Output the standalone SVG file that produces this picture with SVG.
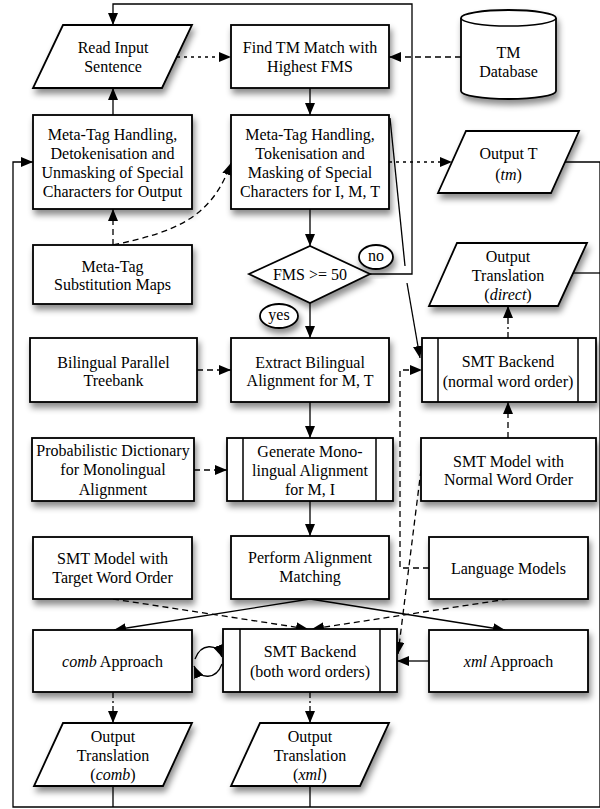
<svg xmlns="http://www.w3.org/2000/svg" width="600" height="809" viewBox="0 0 600 809">
<defs>
<filter id="sh" x="-20%" y="-20%" width="150%" height="160%">
<feDropShadow dx="2" dy="5" stdDeviation="3" flood-color="#000" flood-opacity="0.45"/>
</filter>
<marker id="ah" viewBox="0 0 12 10" refX="12" refY="5" markerWidth="12" markerHeight="10" markerUnits="userSpaceOnUse" orient="auto">
<path d="M0,0 L12,5 L0,10 z" fill="#000"/>
</marker>
<style>
.b{fill:#fff;stroke:#000;stroke-width:1.8;filter:url(#sh)}
.i{fill:none;stroke:#000;stroke-width:1.5}
.t{font-family:"Liberation Serif","Times New Roman",serif;font-size:16px;text-anchor:middle;fill:#000}
.c{fill:none;stroke:#000;stroke-width:1.3}
.a{marker-end:url(#ah)}
.dash{stroke-dasharray:6 4}
.dot{stroke-dasharray:3 4}
.dd{stroke-dasharray:6 3 2 3}
</style>
</defs>

<g id="connectors">
<path class="c dot a" d="M177,57 H231"/>
<path class="c dash a" d="M461,57 H389"/>
<path class="c a" d="M310,88 V115"/>
<path class="c a" d="M113,115 V88"/>
<path class="c dash a" d="M113,245 V209"/>
<path class="c dash a" d="M113,245 C175,232 212,218 231,163"/>
<path class="c dot a" d="M389,162 H452"/>
<path class="c a" d="M310,209 V246"/>
<path class="c a" d="M310,303 V338"/>
<path class="c a" d="M370,274 H412 V4 H113 V25"/>
<path class="c" d="M390,118 L405,266"/>
<path class="c a" d="M407,283 L420,358"/>
<path class="c dash a" d="M197,370 H231"/>
<path class="c a" d="M310,402 V438"/>
<path class="c dash a" d="M194,470 H227"/>
<path class="c a" d="M310,501 V536"/>
<path class="c a" d="M310,599 L114,630"/>
<path class="c a" d="M310,599 L505,630"/>
<path class="c dash a" d="M113,599 L308,629"/>
<path class="c dash a" d="M508,599 L312,629"/>
<path class="c dash a" d="M429,568 H400 V370 H422"/>
<path class="c dash a" d="M421,470 L398,654"/>
<path class="c dd a" d="M508,338 V306"/>
<path class="c dash a" d="M508,438 V402"/>
<path class="c a" d="M429,661 H397"/>
<path class="c a" d="M195,659 C201,643 217,643 222,657"/>
<path class="c a" d="M222,664 C216,680 200,680 194,666"/>
<path class="c dd a" d="M113,692 V723"/>
<path class="c dd a" d="M310,692 V723"/>
<path class="c" d="M113,786 V807"/>
<path class="c" d="M310,786 V807"/>
<path class="c a" d="M600,807 H13 V162 H33"/>
<path class="c" d="M565,162 H600 V807"/>
<path class="c" d="M572,273 H600"/>
</g>

<g id="read-input">
<polygon class="b" points="63,25 192,25 162,88 33,88"/>
<text class="t" x="113" y="53">Read Input</text>
<text class="t" x="113" y="72">Sentence</text>
</g>
<g id="find-tm">
<rect class="b" x="231" y="25" width="158" height="63"/>
<text class="t" x="310" y="53">Find TM Match with</text>
<text class="t" x="310" y="72">Highest FMS</text>
</g>
<g id="tm-database">
<path class="b" d="M461,18 A47.5,8 0 0 1 556,18 V91 A47.5,8 0 0 1 461,91 Z"/>
<path class="i" d="M461,18 A47.5,8 0 0 0 556,18"/>
<text class="t" x="508.5" y="58">TM</text>
<text class="t" x="508.5" y="77">Database</text>
</g>
<g id="detokenisation">
<rect class="b" x="33" y="115" width="159" height="94"/>
<text class="t" x="112.5" y="140">Meta-Tag Handling,</text>
<text class="t" x="112.5" y="159">Detokenisation and</text>
<text class="t" x="112.5" y="178">Unmasking of Special</text>
<text class="t" x="112.5" y="197">Characters for Output</text>
</g>
<g id="tokenisation">
<rect class="b" x="231" y="115" width="158" height="94"/>
<text class="t" x="310" y="140">Meta-Tag Handling,</text>
<text class="t" x="310" y="159">Tokenisation and</text>
<text class="t" x="310" y="178">Masking of Special</text>
<text class="t" x="310" y="197">Characters for I, M, T</text>
</g>
<g id="output-tm">
<polygon class="b" points="466,131 579,131 551,193 438,193"/>
<text class="t" x="508.5" y="159">Output T</text>
<text class="t" x="508.5" y="180">(<tspan font-style="italic">tm</tspan>)</text>
</g>
<g id="meta-tag-maps">
<rect class="b" x="33" y="245" width="159" height="59"/>
<text class="t" x="112.5" y="272">Meta-Tag</text>
<text class="t" x="112.5" y="290">Substitution Maps</text>
</g>
<g id="fms-decision">
<polygon class="b" points="249,274 310,246 370,274 310,303"/>
<text class="t" x="310" y="280">FMS &gt;= 50</text>
</g>
<g id="label-no">
<ellipse class="b" cx="376" cy="257" rx="17" ry="12"/>
<text class="t" x="376" y="261">no</text>
</g>
<g id="label-yes">
<ellipse class="b" cx="279" cy="316" rx="19" ry="12"/>
<text class="t" x="279" y="320">yes</text>
</g>
<g id="output-direct">
<polygon class="b" points="457,243 587,243 558,306 429,306"/>
<text class="t" x="508" y="262">Output</text>
<text class="t" x="508" y="281">Translation</text>
<text class="t" x="508" y="300">(<tspan font-style="italic">direct</tspan>)</text>
</g>
<g id="treebank">
<rect class="b" x="30" y="338" width="167" height="64"/>
<text class="t" x="113.5" y="368">Bilingual Parallel</text>
<text class="t" x="113.5" y="386">Treebank</text>
</g>
<g id="extract-alignment">
<rect class="b" x="231" y="338" width="158" height="64"/>
<text class="t" x="310" y="368">Extract Bilingual</text>
<text class="t" x="310" y="386">Alignment for M, T</text>
</g>
<g id="smt-normal">
<rect class="b" x="422" y="338" width="174" height="64"/>
<path class="i" d="M438,338 V402 M578,338 V402"/>
<text class="t" x="508" y="367">SMT Backend</text>
<text class="t" x="508" y="387">(normal word order)</text>
</g>
<g id="prob-dictionary">
<rect class="b" x="32" y="438" width="162" height="63"/>
<text class="t" x="113" y="456">Probabilistic Dictionary</text>
<text class="t" x="113" y="475">for Monolingual</text>
<text class="t" x="113" y="495">Alignment</text>
</g>
<g id="generate-mono">
<rect class="b" x="227" y="438" width="166" height="63"/>
<path class="i" d="M243,438 V501 M376,438 V501"/>
<text class="t" x="310" y="457">Generate Mono-</text>
<text class="t" x="310" y="476">lingual Alignment</text>
<text class="t" x="310" y="495">for M, I</text>
</g>
<g id="smt-model-normal">
<rect class="b" x="421" y="438" width="175" height="63"/>
<text class="t" x="508.5" y="467">SMT Model with</text>
<text class="t" x="508.5" y="485">Normal Word Order</text>
</g>
<g id="smt-model-target">
<rect class="b" x="33" y="537" width="159" height="62"/>
<text class="t" x="112.5" y="564">SMT Model with</text>
<text class="t" x="112.5" y="583">Target Word Order</text>
</g>
<g id="perform-matching">
<rect class="b" x="231" y="536" width="158" height="63"/>
<text class="t" x="310" y="563">Perform Alignment</text>
<text class="t" x="310" y="582">Matching</text>
</g>
<g id="language-models">
<rect class="b" x="429" y="537" width="159" height="62"/>
<text class="t" x="508.5" y="574">Language Models</text>
</g>
<g id="comb-approach">
<rect class="b" x="33" y="630" width="159" height="62"/>
<text class="t" x="112.5" y="667"><tspan font-style="italic">comb</tspan> Approach</text>
</g>
<g id="smt-both">
<rect class="b" x="223" y="629" width="174" height="63"/>
<path class="i" d="M240,629 V692 M380,629 V692"/>
<text class="t" x="310" y="657">SMT Backend</text>
<text class="t" x="310" y="677">(both word orders)</text>
</g>
<g id="xml-approach">
<rect class="b" x="429" y="630" width="159" height="62"/>
<text class="t" x="508.5" y="667"><tspan font-style="italic">xml</tspan> Approach</text>
</g>
<g id="output-comb">
<polygon class="b" points="63,723 192,723 163,786 34,786"/>
<text class="t" x="113" y="742">Output</text>
<text class="t" x="113" y="761">Translation</text>
<text class="t" x="113" y="780">(<tspan font-style="italic">comb</tspan>)</text>
</g>
<g id="output-xml">
<polygon class="b" points="260,723 389,723 360,786 231,786"/>
<text class="t" x="310" y="742">Output</text>
<text class="t" x="310" y="761">Translation</text>
<text class="t" x="310" y="780">(<tspan font-style="italic">xml</tspan>)</text>
</g>
</svg>
